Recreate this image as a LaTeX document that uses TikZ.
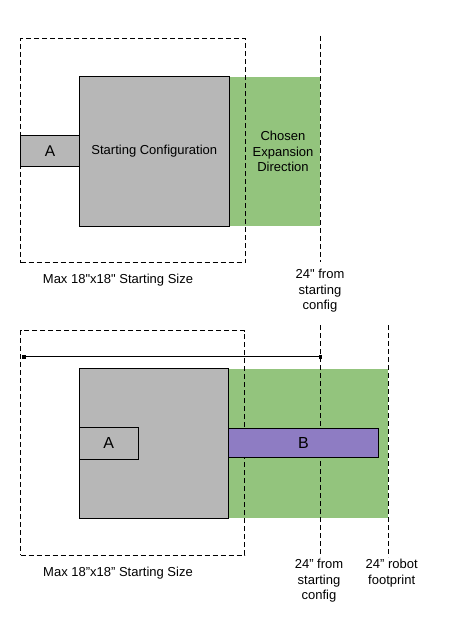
\documentclass[tikz,border=0pt]{standalone}
\usepackage{fontspec}
\setmainfont{Liberation Sans}[Ligatures=TeXOff]
\definecolor{boxgray}{HTML}{B7B7B7}
\definecolor{expgreen}{HTML}{93C47D}
\definecolor{bpurple}{HTML}{8E7CC3}
\begin{document}
\begin{tikzpicture}[x=1pt,y=-1pt,
  txt/.style={font=\fontsize{13}{15.6}\selectfont, align=center, inner sep=0pt},
  grayblock/.style={draw=black, line width=0.9pt, fill=boxgray, inner sep=0pt},
  greenarea/.style={fill=expgreen, inner sep=0pt},
  purpleblock/.style={draw=black, line width=0.9pt, fill=bpurple, inner sep=0pt},
  dashbox/.style={draw=black, line width=0.9pt, dash pattern=on 5pt off 3pt, inner sep=0pt},
  dashline/.style={draw=black, line width=0.9pt, dash pattern=on 5pt off 3pt},
  bigletter/.style={font=\fontsize{16}{18}\selectfont}
]
\useasboundingbox (0,0) rectangle (452,626);

% ---------- Top diagram ----------
\node[grayblock, minimum width=58.6pt, minimum height=30.3pt, font=\fontsize{15.5}{18}\selectfont] (topA) at (50,150.85) {A};
\node[greenarea, minimum width=91pt, minimum height=149.3pt] (topGreen) at (274.8,151.35) {};
\node[grayblock, minimum width=150pt, minimum height=149.3pt, txt] (topStart) at (154.3,151.35) {Starting Configuration};
\node[dashbox, minimum width=225pt, minimum height=224.4pt] (topMax) at (133.2,150.5) {};
\coordinate (topL1) at (320.3,36);
\coordinate (topL2) at (320.3,262);
\draw[dashline] (topL1) -- (topL2);
\node[txt] (topExp) at (283,151.7) {Chosen\\Expansion\\Direction};
\node[txt] (topMaxLbl) at (118,280) {Max 18"x18" Starting Size};
\node[txt] (topFrom) at (320,291) {24" from\\starting\\config};

% ---------- Bottom diagram ----------
\node[greenarea, minimum width=159.6pt, minimum height=149.6pt] (botGreen) at (308.5,443.5) {};
\node[grayblock, minimum width=149.4pt, minimum height=149.6pt] (botStart) at (154,443.5) {};
\node[grayblock, minimum width=59pt, minimum height=32pt, bigletter] (botA) at (108.8,443.3) {A};
\node[dashbox, minimum width=224pt, minimum height=224.3pt] (botMax) at (132.7,442.85) {};
\coordinate (botL1) at (320.3,325);
\coordinate (botL2) at (320.3,557);
\coordinate (botR1) at (388.3,325);
\coordinate (botR2) at (388.3,557);
\draw[dashline] (botL1) -- (botL2);
\draw[dashline] (botR1) -- (botR2);
\node[purpleblock, minimum width=149.6pt, minimum height=28.3pt, bigletter] (botB) at (303.5,442.85) {B};
\coordinate (m1) at (24,356.7);
\coordinate (m2) at (320.3,356.7);
\draw[line width=1pt] (m1) -- (m2);
\fill (m1) +(-1.8,-1.8) rectangle +(1.8,1.8);
\fill (m2) +(-1.8,-1.8) rectangle +(1.8,1.8);
\node[txt] (botMaxLbl) at (118,573.3) {Max 18”x18” Starting Size};
\node[txt] (botFrom) at (319,581) {24” from\\starting\\config};
\node[txt] (botRobot) at (391.7,573) {24” robot\\footprint};
\end{tikzpicture}
\end{document}
